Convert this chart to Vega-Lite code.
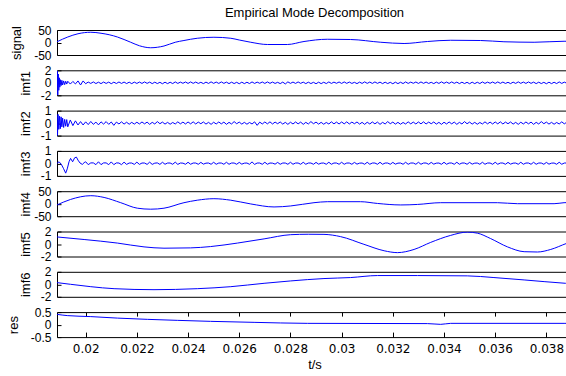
{
"$schema":"https://vega.github.io/schema/vega-lite/v6.json",
"padding":{"left":6,"top":6,"right":0,"bottom":0},
"background":"white",
"spacing":15.3,
"bounds":"flush",
"datasets":{
"sig":[{"t":0.01888,"v":3},{"t":0.0193,"v":22},{"t":0.0197,"v":35},{"t":0.0202,"v":41},{"t":0.0206,"v":37},{"t":0.02124,"v":22},{"t":0.0215,"v":12},{"t":0.02176,"v":1},{"t":0.0221,"v":-13},{"t":0.02254,"v":-21},{"t":0.02306,"v":-14},{"t":0.0235,"v":1},{"t":0.02384,"v":8},{"t":0.02436,"v":17},{"t":0.02501,"v":21},{"t":0.02567,"v":17},{"t":0.026,"v":10},{"t":0.02645,"v":1},{"t":0.0271,"v":-8},{"t":0.02788,"v":-8},{"t":0.02853,"v":4},{"t":0.02944,"v":13},{"t":0.03035,"v":12},{"t":0.03153,"v":1},{"t":0.03244,"v":-4},{"t":0.03335,"v":4},{"t":0.03426,"v":9},{"t":0.03543,"v":8},{"t":0.03634,"v":3},{"t":0.03752,"v":1},{"t":0.03869,"v":5},{"t":0.039,"v":5}],
"i4":[{"t":0.01888,"v":-5},{"t":0.01941,"v":17},{"t":0.0202,"v":32},{"t":0.02072,"v":25},{"t":0.02137,"v":4},{"t":0.02202,"v":-18},{"t":0.02254,"v":-22},{"t":0.02306,"v":-18},{"t":0.02384,"v":4},{"t":0.02436,"v":14},{"t":0.02501,"v":20},{"t":0.02567,"v":14},{"t":0.02645,"v":-1},{"t":0.02736,"v":-13},{"t":0.02801,"v":-9},{"t":0.02892,"v":4},{"t":0.02944,"v":8},{"t":0.03074,"v":8},{"t":0.0314,"v":1},{"t":0.03231,"v":-5},{"t":0.03296,"v":-3},{"t":0.03387,"v":4},{"t":0.03609,"v":4},{"t":0.03687,"v":0},{"t":0.0383,"v":0},{"t":0.03869,"v":4},{"t":0.039,"v":5}],
"i5":[{"t":0.01888,"v":1.13},{"t":0.01994,"v":0.72},{"t":0.02124,"v":0.15},{"t":0.02228,"v":-0.46},{"t":0.02306,"v":-0.67},{"t":0.0241,"v":-0.62},{"t":0.02488,"v":-0.41},{"t":0.02593,"v":0.15},{"t":0.02697,"v":0.82},{"t":0.02801,"v":1.49},{"t":0.0287,"v":1.56},{"t":0.02931,"v":1.54},{"t":0.02996,"v":1.18},{"t":0.03087,"v":-0.05},{"t":0.03166,"v":-1.08},{"t":0.03218,"v":-1.38},{"t":0.03283,"v":-0.87},{"t":0.03348,"v":0.26},{"t":0.03426,"v":1.38},{"t":0.03491,"v":1.9},{"t":0.0353,"v":1.74},{"t":0.03582,"v":0.87},{"t":0.03648,"v":-0.46},{"t":0.03713,"v":-1.23},{"t":0.03765,"v":-1.28},{"t":0.03817,"v":-0.87},{"t":0.03879,"v":0.1},{"t":0.039,"v":0.4}],
"i6":[{"t":0.01888,"v":0.27},{"t":0.01941,"v":0},{"t":0.0202,"v":-0.38},{"t":0.02111,"v":-0.7},{"t":0.02267,"v":-0.86},{"t":0.02436,"v":-0.7},{"t":0.02567,"v":-0.38},{"t":0.02697,"v":0.16},{"t":0.02801,"v":0.54},{"t":0.02931,"v":0.92},{"t":0.03035,"v":1.08},{"t":0.0314,"v":1.4},{"t":0.03296,"v":1.4},{"t":0.03491,"v":1.35},{"t":0.03595,"v":1.08},{"t":0.03713,"v":0.7},{"t":0.03791,"v":0.43},{"t":0.03875,"v":0.16},{"t":0.039,"v":0.08}],
"res":[{"t":0.01888,"v":0.41},{"t":0.01928,"v":0.36},{"t":0.0202,"v":0.32},{"t":0.02124,"v":0.26},{"t":0.02241,"v":0.21},{"t":0.02358,"v":0.17},{"t":0.02488,"v":0.13},{"t":0.02658,"v":0.09},{"t":0.02866,"v":0.05},{"t":0.03335,"v":0.04},{"t":0.03387,"v":0.01},{"t":0.03426,"v":0.05},{"t":0.03869,"v":0.05},{"t":0.039,"v":0.05}],
"noise":[
{"t":0.01888,"a":0},{"t":0.01889,"a":1.9},{"t":0.01891,"a":-1.95},{"t":0.01893,"a":1.4},{"t":0.01895,"a":-1.2},{"t":0.01897,"a":0.8},{"t":0.01899,"a":-0.7},{"t":0.01901,"a":0.5},{"t":0.01904,"a":-0.45},{"t":0.01907,"a":0.4},{"t":0.0191,"a":-0.35},{"t":0.01914,"a":0.3},{"t":0.01918,"a":-0.3},{"t":0.01922,"a":0.25},{"t":0.01926,"a":-0.2},
{"t":0.01888,"b":0.6},{"t":0.0189,"b":-1},{"t":0.01892,"b":0.7},{"t":0.01895,"b":-0.5},{"t":0.01898,"b":0.55},{"t":0.01901,"b":-0.45},{"t":0.01904,"b":0.5},{"t":0.01907,"b":-0.3},{"t":0.0191,"b":0.4},{"t":0.01914,"b":-0.35},{"t":0.01918,"b":0.3},{"t":0.01922,"b":-0.25},{"t":0.01926,"b":0.28},
{"t":0.01888,"c":0},{"t":0.01896,"c":0.13},{"t":0.01905,"c":-0.08},{"t":0.01913,"c":-0.39},{"t":0.01922,"c":-0.78},{"t":0.01928,"c":-0.44},{"t":0.01935,"c":0.13},{"t":0.01941,"c":0.4},{"t":0.01949,"c":0.13},{"t":0.01957,"c":0.45},{"t":0.01964,"c":0.5},{"t":0.0197,"c":0.26},{"t":0.01978,"c":0.03},{"t":0.01987,"c":-0.08},{"t":0.01994,"c":0.06},
{"t":0.0193,"a":0.25,"b":-0.3},{"t":0.0194,"a":-0.2,"b":0.25},{"t":0.0195,"a":0.22,"b":-0.2},{"t":0.0196,"a":-0.18,"b":0.18},{"t":0.0197,"a":0.3,"b":-0.15},{"t":0.0198,"a":-0.35,"b":0.12},{"t":0.0199,"a":0.3,"b":-0.15},
{"t":0.02,"a":-0.15,"b":0.1,"c":0.13},{"t":0.0201,"a":0.12,"b":-0.12,"c":-0.1},{"t":0.0202,"a":-0.1,"b":0.13,"c":0.04},{"t":0.0203,"a":0.14,"b":-0.1,"c":0.04},{"t":0.0204,"a":-0.12,"b":0.08,"c":-0.1},{"t":0.0205,"a":0.1,"b":-0.14,"c":0.13},{"t":0.0206,"a":-0.13,"b":0.1,"c":-0.1},{"t":0.0207,"a":0.12,"b":-0.08,"c":0.04},{"t":0.0208,"a":-0.1,"b":0.12,"c":0.04},{"t":0.0209,"a":0.11,"b":-0.1,"c":-0.1},
{"t":0.021,"a":-0.14,"b":0.09,"c":0.12},{"t":0.0211,"a":0.1,"b":-0.18,"c":-0.1},{"t":0.0212,"a":-0.11,"b":0.08,"c":0.04},{"t":0.0213,"a":0.13,"b":-0.07,"c":0.03},{"t":0.0214,"a":-0.1,"b":0.1,"c":-0.1},{"t":0.0215,"a":0.12,"b":-0.08,"c":0.1},{"t":0.0216,"a":-0.12,"b":0.07,"c":-0.08},{"t":0.0217,"a":0.1,"b":-0.09,"c":0.03},{"t":0.0218,"a":-0.13,"b":0.06,"c":0.03},{"t":0.0219,"a":0.11,"b":-0.08,"c":-0.08},
{"t":0.022,"a":-0.1,"b":0.07,"c":0.1},{"t":0.0221,"a":0.12,"b":-0.07,"c":-0.08},{"t":0.0222,"a":-0.1,"b":0.09,"c":0.03},{"t":0.0223,"a":0.14,"b":-0.06,"c":0.03},{"t":0.0224,"a":-0.09,"b":0.08,"c":-0.08},{"t":0.0225,"a":0.11,"b":-0.1,"c":0.1},{"t":0.0226,"a":-0.13,"b":0.06,"c":-0.08},{"t":0.0227,"a":0.1,"b":-0.07,"c":0.02},{"t":0.0228,"a":-0.12,"b":0.12,"c":0.04},{"t":0.0229,"a":0.08,"b":-0.05,"c":-0.08},
{"t":0.023,"a":-0.15,"b":0.08,"c":0.09},{"t":0.0231,"a":0.1,"b":-0.08,"c":-0.07},{"t":0.0232,"a":-0.13,"b":0.06,"c":0.03},{"t":0.0233,"a":0.09,"b":-0.09,"c":0.03},{"t":0.0234,"a":-0.12,"b":0.05,"c":-0.07},{"t":0.0235,"a":0.14,"b":-0.07,"c":0.1},{"t":0.0236,"a":-0.1,"b":0.1,"c":-0.08},{"t":0.0237,"a":0.11,"b":-0.06,"c":0.03},{"t":0.0238,"a":-0.08,"b":0.08,"c":0.02},{"t":0.0239,"a":0.13,"b":-0.07,"c":-0.07},
{"t":0.024,"a":-0.1,"b":0.09,"c":0.09},{"t":0.0241,"a":0.14,"b":-0.06,"c":-0.07},{"t":0.0242,"a":-0.09,"b":0.1,"c":0.03},{"t":0.0243,"a":0.12,"b":-0.07,"c":0.03},{"t":0.0244,"a":-0.1,"b":0.08,"c":-0.07},{"t":0.0245,"a":0.08,"b":-0.05,"c":0.08},{"t":0.0246,"a":-0.13,"b":0.09,"c":-0.06},{"t":0.0247,"a":0.11,"b":-0.08,"c":0.02},{"t":0.0248,"a":-0.1,"b":0.06,"c":0.03},{"t":0.0249,"a":0.15,"b":-0.1,"c":-0.07},
{"t":0.025,"a":-0.09,"b":0.07,"c":0.09},{"t":0.0251,"a":0.12,"b":-0.07,"c":-0.07},{"t":0.0252,"a":-0.1,"b":0.09,"c":0.03},{"t":0.0253,"a":0.14,"b":-0.06,"c":0.03},{"t":0.0254,"a":-0.09,"b":0.08,"c":-0.07},{"t":0.0255,"a":0.11,"b":-0.1,"c":0.09},{"t":0.0256,"a":-0.13,"b":0.06,"c":-0.07},{"t":0.0257,"a":0.1,"b":-0.07,"c":0.03},{"t":0.0258,"a":-0.12,"b":0.12,"c":0.03},{"t":0.0259,"a":0.08,"b":-0.05,"c":-0.07},
{"t":0.026,"a":-0.15,"b":0.08,"c":0.08},{"t":0.0261,"a":0.1,"b":-0.08,"c":-0.06},{"t":0.0262,"a":-0.13,"b":0.06,"c":0.02},{"t":0.0263,"a":0.09,"b":-0.09,"c":0.03},{"t":0.0264,"a":-0.12,"b":0.05,"c":-0.07},{"t":0.0265,"a":0.14,"b":-0.07,"c":0.12},{"t":0.0266,"a":-0.1,"b":0.1,"c":-0.08},{"t":0.0267,"a":0.11,"b":-0.18,"c":0.03},{"t":0.0268,"a":-0.08,"b":0.08,"c":0.03},{"t":0.0269,"a":0.13,"b":-0.07,"c":-0.07},
{"t":0.027,"a":-0.1,"b":0.09,"c":0.09},{"t":0.0271,"a":0.14,"b":-0.06,"c":-0.07},{"t":0.0272,"a":-0.09,"b":0.1,"c":0.03},{"t":0.0273,"a":0.12,"b":-0.07,"c":0.02},{"t":0.0274,"a":-0.1,"b":0.08,"c":-0.06},{"t":0.0275,"a":0.08,"b":-0.05,"c":0.08},{"t":0.0276,"a":-0.13,"b":0.09,"c":-0.07},{"t":0.0277,"a":0.11,"b":-0.08,"c":0.03},{"t":0.0278,"a":-0.18,"b":0.06,"c":0.03},{"t":0.0279,"a":0.15,"b":-0.1,"c":-0.07},
{"t":0.028,"a":-0.09,"b":0.07,"c":0.09},{"t":0.0281,"a":0.12,"b":-0.07,"c":-0.07},{"t":0.0282,"a":-0.1,"b":0.09,"c":0.03},{"t":0.0283,"a":0.14,"b":-0.06,"c":0.03},{"t":0.0284,"a":-0.09,"b":0.08,"c":-0.07},{"t":0.0285,"a":0.11,"b":-0.1,"c":0.09},{"t":0.0286,"a":-0.13,"b":0.06,"c":-0.07},{"t":0.0287,"a":0.1,"b":-0.07,"c":0.03},{"t":0.0288,"a":-0.12,"b":0.12,"c":0.03},{"t":0.0289,"a":0.08,"b":-0.05,"c":-0.07},
{"t":0.029,"a":-0.15,"b":0.08,"c":0.08},{"t":0.0291,"a":0.1,"b":-0.08,"c":-0.06},{"t":0.0292,"a":-0.13,"b":0.06,"c":0.02},{"t":0.0293,"a":0.09,"b":-0.09,"c":0.03},{"t":0.0294,"a":-0.12,"b":0.05,"c":-0.07},{"t":0.0295,"a":0.14,"b":-0.07,"c":0.09},{"t":0.0296,"a":-0.1,"b":0.1,"c":-0.07},{"t":0.0297,"a":0.11,"b":-0.06,"c":0.03},{"t":0.0298,"a":-0.08,"b":0.08,"c":0.03},{"t":0.0299,"a":0.13,"b":-0.07,"c":-0.07},
{"t":0.03,"a":-0.1,"b":0.09,"c":0.09},{"t":0.0301,"a":0.14,"b":-0.06,"c":-0.07},{"t":0.0302,"a":-0.09,"b":0.1,"c":0.03},{"t":0.0303,"a":0.12,"b":-0.07,"c":0.03},{"t":0.0304,"a":-0.1,"b":0.08,"c":-0.07},{"t":0.0305,"a":0.08,"b":-0.05,"c":0.08},{"t":0.0306,"a":-0.13,"b":0.09,"c":-0.06},{"t":0.0307,"a":0.11,"b":-0.08,"c":0.02},{"t":0.0308,"a":-0.1,"b":0.06,"c":0.03},{"t":0.0309,"a":0.15,"b":-0.1,"c":-0.07},
{"t":0.031,"a":-0.09,"b":0.07,"c":0.09},{"t":0.0311,"a":0.12,"b":-0.07,"c":-0.07},{"t":0.0312,"a":-0.1,"b":0.09,"c":0.03},{"t":0.0313,"a":0.14,"b":-0.06,"c":0.03},{"t":0.0314,"a":-0.09,"b":0.08,"c":-0.07},{"t":0.0315,"a":0.11,"b":-0.1,"c":0.09},{"t":0.0316,"a":-0.13,"b":0.06,"c":-0.07},{"t":0.0317,"a":0.1,"b":-0.07,"c":0.03},{"t":0.0318,"a":-0.12,"b":0.12,"c":0.03},{"t":0.0319,"a":0.08,"b":-0.05,"c":-0.07},
{"t":0.032,"a":-0.15,"b":0.08,"c":0.08},{"t":0.0321,"a":0.1,"b":-0.08,"c":-0.06},{"t":0.0322,"a":-0.13,"b":0.06,"c":0.02},{"t":0.0323,"a":0.09,"b":-0.09,"c":0.03},{"t":0.0324,"a":-0.12,"b":0.05,"c":-0.07},{"t":0.0325,"a":0.14,"b":-0.07,"c":0.09},{"t":0.0326,"a":-0.1,"b":0.1,"c":-0.07},{"t":0.0327,"a":0.11,"b":-0.06,"c":0.03},{"t":0.0328,"a":-0.08,"b":0.08,"c":0.03},{"t":0.0329,"a":0.13,"b":-0.07,"c":-0.07},
{"t":0.033,"a":-0.1,"b":0.09,"c":0.09},{"t":0.0331,"a":0.14,"b":-0.06,"c":-0.07},{"t":0.0332,"a":-0.09,"b":0.1,"c":0.03},{"t":0.0333,"a":0.12,"b":-0.07,"c":0.03},{"t":0.0334,"a":-0.1,"b":0.08,"c":-0.07},{"t":0.0335,"a":0.08,"b":-0.05,"c":0.08},{"t":0.0336,"a":-0.13,"b":0.09,"c":-0.06},{"t":0.0337,"a":0.11,"b":-0.08,"c":0.02},{"t":0.0338,"a":-0.1,"b":0.06,"c":0.03},{"t":0.0339,"a":0.15,"b":-0.1,"c":-0.07},
{"t":0.034,"a":-0.09,"b":0.07,"c":0.09},{"t":0.0341,"a":0.12,"b":-0.07,"c":-0.07},{"t":0.0342,"a":-0.1,"b":0.09,"c":0.03},{"t":0.0343,"a":0.14,"b":-0.06,"c":0.03},{"t":0.0344,"a":-0.09,"b":0.08,"c":-0.07},{"t":0.0345,"a":0.11,"b":-0.1,"c":0.09},{"t":0.0346,"a":-0.13,"b":0.06,"c":-0.07},{"t":0.0347,"a":0.1,"b":-0.07,"c":0.03},{"t":0.0348,"a":-0.12,"b":0.12,"c":0.03},{"t":0.0349,"a":0.08,"b":-0.05,"c":-0.07},
{"t":0.035,"a":-0.15,"b":0.08,"c":0.08},{"t":0.0351,"a":0.1,"b":-0.08,"c":-0.06},{"t":0.0352,"a":-0.13,"b":0.06,"c":0.02},{"t":0.0353,"a":0.09,"b":-0.09,"c":0.03},{"t":0.0354,"a":-0.12,"b":0.05,"c":-0.07},{"t":0.0355,"a":0.14,"b":-0.07,"c":0.09},{"t":0.0356,"a":-0.1,"b":0.1,"c":-0.07},{"t":0.0357,"a":0.11,"b":-0.06,"c":0.03},{"t":0.0358,"a":-0.08,"b":0.08,"c":0.03},{"t":0.0359,"a":0.13,"b":-0.07,"c":-0.07},
{"t":0.036,"a":-0.1,"b":0.09,"c":0.09},{"t":0.0361,"a":0.14,"b":-0.06,"c":-0.07},{"t":0.0362,"a":-0.09,"b":0.1,"c":0.03},{"t":0.0363,"a":0.12,"b":-0.07,"c":0.03},{"t":0.0364,"a":-0.1,"b":0.08,"c":-0.07},{"t":0.0365,"a":0.08,"b":-0.05,"c":0.08},{"t":0.0366,"a":-0.13,"b":0.09,"c":-0.06},{"t":0.0367,"a":0.11,"b":-0.08,"c":0.02},{"t":0.0368,"a":-0.1,"b":0.06,"c":0.03},{"t":0.0369,"a":0.15,"b":-0.1,"c":-0.07},
{"t":0.037,"a":-0.09,"b":0.07,"c":0.09},{"t":0.0371,"a":0.12,"b":-0.07,"c":-0.07},{"t":0.0372,"a":-0.1,"b":0.09,"c":0.03},{"t":0.0373,"a":0.14,"b":-0.06,"c":0.03},{"t":0.0374,"a":-0.09,"b":0.08,"c":-0.07},{"t":0.0375,"a":0.11,"b":-0.1,"c":0.09},{"t":0.0376,"a":-0.13,"b":0.06,"c":-0.07},{"t":0.0377,"a":0.1,"b":-0.07,"c":0.03},{"t":0.0378,"a":-0.12,"b":0.12,"c":0.03},{"t":0.0379,"a":0.08,"b":-0.05,"c":-0.07},
{"t":0.038,"a":-0.15,"b":0.08,"c":0.08},{"t":0.0381,"a":0.1,"b":-0.08,"c":-0.06},{"t":0.0382,"a":-0.13,"b":0.06,"c":0.02},{"t":0.0383,"a":0.09,"b":-0.09,"c":0.03},{"t":0.0384,"a":-0.12,"b":0.05,"c":-0.07},{"t":0.0385,"a":0.14,"b":-0.07,"c":0.09},{"t":0.0386,"a":-0.1,"b":0.1,"c":-0.07},{"t":0.0387,"a":0.11,"b":-0.06,"c":0.03},{"t":0.0388,"a":-0.08,"b":0.08,"c":0.03},{"t":0.0389,"a":0.13,"b":-0.07,"c":-0.07},
{"t":0.039,"a":-0.1,"b":0.09,"c":0.09}
]
},
"vconcat":[
{"width":515,"height":25,"data":{"name":"sig"},
 "title":{"text":"Empirical Mode Decomposition","baseline":"alphabetic","offset":-6},
 "mark":{"type":"line","color":"#0000ff","strokeWidth":1,"interpolate":"monotone","clip":true},
 "encoding":{"x":{"field":"t","type":"quantitative","scale":{"domain":[0.01888,0.039],"nice":false,"zero":false},"axis":null},
 "y":{"field":"v","type":"quantitative","scale":{"domain":[-50,50],"nice":false},"axis":{"values":[-50,0,50],"title":"signal","titleX":-36.7}}}},
{"width":515,"height":25,"data":{"name":"noise"},"transform":[{"filter":{"field":"a","valid":true}}],
 "mark":{"type":"line","color":"#0000ff","strokeWidth":1,"clip":true},
 "encoding":{"x":{"field":"t","type":"quantitative","scale":{"domain":[0.01888,0.039],"nice":false,"zero":false},"axis":null},
 "y":{"field":"a","type":"quantitative","scale":{"domain":[-2,2],"nice":false},"axis":{"values":[-2,0,2],"title":"imf1","titleX":-28}}}},
{"width":515,"height":25,"data":{"name":"noise"},"transform":[{"filter":{"field":"b","valid":true}}],
 "mark":{"type":"line","color":"#0000ff","strokeWidth":1,"clip":true},
 "encoding":{"x":{"field":"t","type":"quantitative","scale":{"domain":[0.01888,0.039],"nice":false,"zero":false},"axis":null},
 "y":{"field":"b","type":"quantitative","scale":{"domain":[-1,1],"nice":false},"axis":{"values":[-1,0,1],"title":"imf2","titleX":-28}}}},
{"width":515,"height":25,"data":{"name":"noise"},"transform":[{"filter":{"field":"c","valid":true}}],
 "mark":{"type":"line","color":"#0000ff","strokeWidth":1,"clip":true},
 "encoding":{"x":{"field":"t","type":"quantitative","scale":{"domain":[0.01888,0.039],"nice":false,"zero":false},"axis":null},
 "y":{"field":"c","type":"quantitative","scale":{"domain":[-1,1],"nice":false},"axis":{"values":[-1,0,1],"title":"imf3","titleX":-28}}}},
{"width":515,"height":25,"data":{"name":"i4"},
 "mark":{"type":"line","color":"#0000ff","strokeWidth":1,"interpolate":"monotone","clip":true},
 "encoding":{"x":{"field":"t","type":"quantitative","scale":{"domain":[0.01888,0.039],"nice":false,"zero":false},"axis":null},
 "y":{"field":"v","type":"quantitative","scale":{"domain":[-50,50],"nice":false},"axis":{"values":[-50,0,50],"title":"imf4","titleX":-28}}}},
{"width":515,"height":25,"data":{"name":"i5"},
 "mark":{"type":"line","color":"#0000ff","strokeWidth":1,"interpolate":"monotone","clip":true},
 "encoding":{"x":{"field":"t","type":"quantitative","scale":{"domain":[0.01888,0.039],"nice":false,"zero":false},"axis":null},
 "y":{"field":"v","type":"quantitative","scale":{"domain":[-2,2],"nice":false},"axis":{"values":[-2,0,2],"title":"imf5","titleX":-28}}}},
{"width":515,"height":25,"data":{"name":"i6"},
 "mark":{"type":"line","color":"#0000ff","strokeWidth":1,"interpolate":"monotone","clip":true},
 "encoding":{"x":{"field":"t","type":"quantitative","scale":{"domain":[0.01888,0.039],"nice":false,"zero":false},"axis":null},
 "y":{"field":"v","type":"quantitative","scale":{"domain":[-2,2],"nice":false},"axis":{"values":[-2,0,2],"title":"imf6","titleX":-28}}}},
{"width":515,"height":25,"data":{"name":"res"},
 "encoding":{"y":{"field":"v","type":"quantitative","scale":{"domain":[-0.5,0.5],"nice":false},"axis":{"values":[-0.5,0,0.5],"title":"res","titleX":-39.6}}},
 "layer":[
  {"mark":{"type":"line","color":"#0000ff","strokeWidth":1,"interpolate":"monotone","clip":true},
   "encoding":{"x":{"field":"t","type":"quantitative","scale":{"domain":[0.01888,0.039],"nice":false,"zero":false},
    "axis":{"values":[0.02,0.022,0.024,0.026,0.028,0.03,0.032,0.034,0.036,0.038],"title":"t/s","labelFont":"DejaVu Sans","labelFontSize":12,"labelPadding":11.5,"titlePadding":3.5,"labelExpr":"'' + datum.value"}}}},
  {"mark":{"type":"point","opacity":0},
   "encoding":{"x":{"field":"t","type":"quantitative","scale":{"domain":[0.01888,0.039],"nice":false,"zero":false},
    "axis":{"orient":"top","values":[0.02,0.022,0.024,0.026,0.028,0.03,0.032,0.034,0.036,0.038],"labels":false,"title":null,"tickSize":-4}}}}
 ],
 "resolve":{"axis":{"x":"independent"}}}
],
"config":{
 "view":{"stroke":"#000","strokeWidth":1},
 "font":"Liberation Sans",
 "title":{"font":"Liberation Sans","fontSize":13,"fontWeight":"normal","color":"#000","anchor":"middle"},
 "axis":{"labelFont":"Liberation Sans","labelFontSize":13,"labelColor":"#000","titleFont":"Liberation Sans","titleFontSize":13,"titleFontWeight":"normal","titleColor":"#000","tickColor":"#000","domain":false,"grid":false,"labelFlush":false,"labelOverlap":false,"labelBound":false},
 "axisY":{"tickSize":-4,"labelPadding":10,"labelFontSize":12,"titleBaseline":"alphabetic","titleAngle":-90,"labelExpr":"datum.value < 0 ? '-' + (-datum.value) : '' + datum.value"},
 "axisX":{"tickSize":-5}
}
}
